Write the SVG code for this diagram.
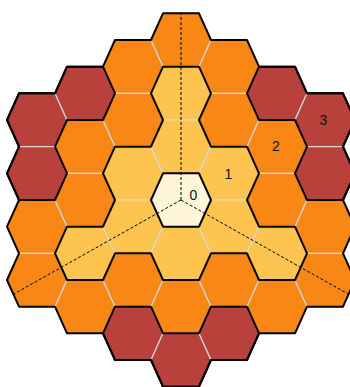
<svg xmlns="http://www.w3.org/2000/svg" xmlns:xlink="http://www.w3.org/1999/xlink" width="350" height="387" viewBox="0 0 350 387">
<style>
.h{stroke:#d8d8d8;stroke-width:1.2}
.O{fill:#f98715}
.Y{fill:#fdc44f}
.R{fill:#b8413b}
.C{fill:#fff5d9}
.b{fill:none;stroke:#000;stroke-width:2;stroke-linejoin:round}
.d{fill:none;stroke:#000;stroke-width:1;stroke-dasharray:3,2}
.t{font-family:"Liberation Sans",Arial,sans-serif;font-size:14px;fill:#111;text-anchor:middle}
</style>
<defs>
<polygon id="hex" points="-30,0 -18,-26.667 18,-26.667 30,0 18,26.667 -18,26.667"/>
</defs>
<g id="cells">
<g id="h_m3_m3"><use xlink:href="#hex" class="h R" x="37" y="120"/></g>
<g id="h_m3_m1"><use xlink:href="#hex" class="h R" x="37" y="173.333"/></g>
<g id="h_m3_p1"><use xlink:href="#hex" class="h O" x="37" y="226.667"/></g>
<g id="h_m3_p3"><use xlink:href="#hex" class="h O" x="37" y="280"/></g>
<g id="h_m2_m4"><use xlink:href="#hex" class="h R" x="85" y="93.333"/></g>
<g id="h_m2_m2"><use xlink:href="#hex" class="h O" x="85" y="146.667"/></g>
<g id="h_m2_0"><use xlink:href="#hex" class="h O" x="85" y="200"/></g>
<g id="h_m2_p2"><use xlink:href="#hex" class="h Y" x="85" y="253.333"/></g>
<g id="h_m2_p4"><use xlink:href="#hex" class="h O" x="85" y="306.667"/></g>
<g id="h_m1_m5"><use xlink:href="#hex" class="h O" x="133" y="66.667"/></g>
<g id="h_m1_m3"><use xlink:href="#hex" class="h O" x="133" y="120"/></g>
<g id="h_m1_m1"><use xlink:href="#hex" class="h Y" x="133" y="173.333"/></g>
<g id="h_m1_p1"><use xlink:href="#hex" class="h Y" x="133" y="226.667"/></g>
<g id="h_m1_p3"><use xlink:href="#hex" class="h O" x="133" y="280"/></g>
<g id="h_m1_p5"><use xlink:href="#hex" class="h R" x="133" y="333.333"/></g>
<g id="h_0_m6"><use xlink:href="#hex" class="h O" x="181" y="40"/></g>
<g id="h_0_m4"><use xlink:href="#hex" class="h Y" x="181" y="93.333"/></g>
<g id="h_0_m2"><use xlink:href="#hex" class="h Y" x="181" y="146.667"/></g>
<g id="h_0_0"><use xlink:href="#hex" class="h C" x="181" y="200"/></g>
<g id="h_0_p2"><use xlink:href="#hex" class="h Y" x="181" y="253.333"/></g>
<g id="h_0_p4"><use xlink:href="#hex" class="h O" x="181" y="306.667"/></g>
<g id="h_0_p6"><use xlink:href="#hex" class="h R" x="181" y="360"/></g>
<g id="h_p1_m5"><use xlink:href="#hex" class="h O" x="229" y="66.667"/></g>
<g id="h_p1_m3"><use xlink:href="#hex" class="h O" x="229" y="120"/></g>
<g id="h_p1_m1"><use xlink:href="#hex" class="h Y" x="229" y="173.333"/></g>
<g id="h_p1_p1"><use xlink:href="#hex" class="h Y" x="229" y="226.667"/></g>
<g id="h_p1_p3"><use xlink:href="#hex" class="h O" x="229" y="280"/></g>
<g id="h_p1_p5"><use xlink:href="#hex" class="h R" x="229" y="333.333"/></g>
<g id="h_p2_m4"><use xlink:href="#hex" class="h R" x="277" y="93.333"/></g>
<g id="h_p2_m2"><use xlink:href="#hex" class="h O" x="277" y="146.667"/></g>
<g id="h_p2_0"><use xlink:href="#hex" class="h O" x="277" y="200"/></g>
<g id="h_p2_p2"><use xlink:href="#hex" class="h Y" x="277" y="253.333"/></g>
<g id="h_p2_p4"><use xlink:href="#hex" class="h O" x="277" y="306.667"/></g>
<g id="h_p3_m3"><use xlink:href="#hex" class="h R" x="325" y="120"/></g>
<g id="h_p3_m1"><use xlink:href="#hex" class="h R" x="325" y="173.333"/></g>
<g id="h_p3_p1"><use xlink:href="#hex" class="h O" x="325" y="226.667"/></g>
<g id="h_p3_p3"><use xlink:href="#hex" class="h O" x="325" y="280"/></g>
</g>
<g id="connectors">
<path class="d" d="M181,200 L181,13.3"/>
<path class="d" d="M181,200 L13,294.5"/>
<path class="d" d="M181,200 L349,294.5"/>
</g>
<g id="borders">
<path class="b" d="M163,13.333 L199,13.333 L211,40 L247,40 L259,66.667 L295,66.667 L307,93.333 L343,93.333 L355,120 L343,146.667 L355,173.333 L343,200 L355,226.667 L343,253.333 L355,280 L343,306.667 L307,306.667 L295,333.333 L259,333.333 L247,360 L211,360 L199,386.667 L163,386.667 L151,360 L115,360 L103,333.333 L67,333.333 L55,306.667 L19,306.667 L7,280 L19,253.333 L7,226.667 L19,200 L7,173.333 L19,146.667 L7,120 L19,93.333 L55,93.333 L67,66.667 L103,66.667 L115,40 L151,40 Z"/>
<path class="b" d="M163,66.667 L199,66.667 L211,93.333 L199,120 L211,146.667 L247,146.667 L259,173.333 L247,200 L259,226.667 L295,226.667 L307,253.333 L295,280 L259,280 L247,253.333 L211,253.333 L199,280 L163,280 L151,253.333 L115,253.333 L103,280 L67,280 L55,253.333 L67,226.667 L103,226.667 L115,200 L103,173.333 L115,146.667 L151,146.667 L163,120 L151,93.333 Z"/>
<path class="b" d="M151,200 L163,173.333 L199,173.333 L211,200 L199,226.667 L163,226.667 Z"/>
<path class="b" d="M247,93.333 L259,66.667 L295,66.667 L307,93.333 L343,93.333 L355,120 L343,146.667 L355,173.333 L343,200 L307,200 L295,173.333 L307,146.667 L295,120 L259,120 Z"/>
<path class="b" d="M115,93.333 L103,66.667 L67,66.667 L55,93.333 L19,93.333 L7,120 L19,146.667 L7,173.333 L19,200 L55,200 L67,173.333 L55,146.667 L67,120 L103,120 Z"/>
<path class="b" d="M103,333.333 L115,306.667 L151,306.667 L163,333.333 L199,333.333 L211,306.667 L247,306.667 L259,333.333 L247,360 L211,360 L199,386.667 L163,386.667 L151,360 L115,360 Z"/>
</g>
<g id="labels">
<text class="t" x="193.5" y="199.5">0</text>
<text class="t" x="228.5" y="178.5">1</text>
<text class="t" x="276" y="151">2</text>
<text class="t" x="323.5" y="125">3</text>
</g>
</svg>
